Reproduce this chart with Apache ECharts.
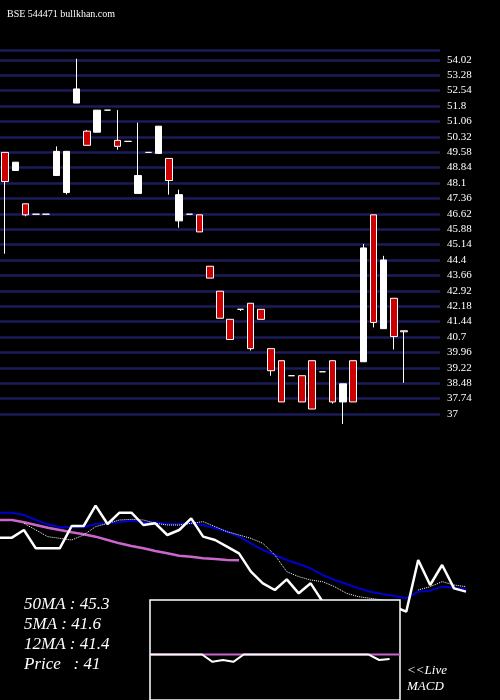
<!DOCTYPE html>
<html><head><meta charset="utf-8">
<script src="https://cdn.jsdelivr.net/npm/echarts@6/dist/echarts.min.js"></script>
<style>html,body{margin:0;padding:0;background:#000}#c{width:500px;height:700px}</style>
</head><body><div id="c"></div>
<script>
// candles: [open, close, low, high]
const candles = [
[49.57,48.17,44.7,49.57],[48.7,49.1,48.7,49.1],[47.1,46.57,46.5,47.1],[46.6,46.6,46.6,46.6],[46.6,46.6,46.6,46.6],
[48.46,49.62,48.46,49.86],[47.64,49.62,47.55,49.62],[51.94,52.62,51.94,54.07],[50.59,49.91,49.91,50.65],[50.54,51.6,50.54,51.6],
[51.6,51.6,51.6,51.6],[50.15,49.86,49.7,51.6],[50.1,50.1,50.1,50.1],[47.6,48.46,47.6,51.0],[49.57,49.57,49.57,49.57],
[49.52,50.83,49.52,50.83],[49.28,48.22,47.54,49.28],[46.28,47.54,45.95,47.78],[46.6,46.6,46.6,46.6],[46.57,45.75,45.75,46.57],
[44.1,43.53,43.53,44.1],[42.9,41.6,41.6,42.9],[41.55,40.58,40.58,41.55],[42.03,42.03,41.95,42.03],[42.32,40.14,40.05,42.32],
[42.03,41.55,41.55,42.03],[40.14,39.08,38.84,40.14],[39.56,37.58,37.58,39.56],[38.84,38.84,38.84,38.84],[38.84,37.58,37.58,38.84],
[39.56,37.24,37.24,39.56],[39.03,39.03,39.03,39.03],[39.56,37.58,37.5,39.56],[37.58,38.45,36.52,38.45],[39.56,37.58,37.58,39.56],
[39.51,44.98,39.51,45.17],[46.57,41.4,41.16,46.57],[41.1,44.4,41.1,44.6],[42.56,40.72,40.1,42.56],[41.0,40.95,38.5,41.0]
];
const categories = candles.map((_, i) => 'D' + (i + 1)).concat(['', '', '']);
const tickLabels = [37,37.74,38.48,39.22,39.96,40.7,41.44,42.18,42.92,43.66,44.4,45.14,45.88,46.62,47.36,48.1,48.84,49.58,50.32,51.06,51.8,52.54,53.28,54.02,54.49];
const priceLine = [143,143,120,175,175,175,108,108,47,102,68,68,105,100,135,120,85,140,150,170,190,245,280,300,268,310,280,335,350,360,362,362,360,350,365,210,285,225,295,305];
const ma12Line = [68,68,75,90,103,112,112,112,102,100,97,92,97,97,102,102,100,105,115,125,140,160,180,195,210,222,235,255,270,282,295,305,312,318,325,305,302,290,293,297];
const ma50Line = [90,90,97,105,113,120,127,133,140,150,160,168,175,183,190,197,200,205,207,210,211,null,null,null,null,null,null,null,null,null,null,null,null,null,null,null,null,null,null,null];
const ma5Line = [null,null,100,120,140,145,150,135,110,100,90,88,90,100,105,105,100,95,110,125,135,145,160,195,245,260,270,275,290,310,320,325,330,335,null,300,290,275,285,290];
const macdLine = [0,0,0,0,0,0,-0.16,-0.12,-0.16,0,0,0,0,0,0,0,0,0,0,0,0,0,-0.12,-0.1,null];
const signalLine = [0,0,0,0,0,0,0,0,0,0,0,0,0,0,0,0,0,0,0,0,0,0,0,0,0];
const legendTexts = ['50MA : 45.3', '5MA : 41.6', '12MA : 41.4', 'Price   : 41'];

const chart = echarts.init(document.getElementById('c'));
const serif = 'Liberation Serif';
const titles = [{text:'BSE 544471 bullkhan.com', left:2, top:4, textStyle:{color:'#fff', fontSize:10, fontWeight:'normal', fontFamily:serif}}];
legendTexts.forEach((t, i) => titles.push({text:t, left:19, top:591 + i*20, textStyle:{color:'#fff', fontSize:17, fontStyle:'italic', fontWeight:'normal', fontFamily:serif}}));
titles.push({text:'<<Live\nMACD', left:402, top:658, textStyle:{color:'#fff', fontSize:13, fontStyle:'italic', fontWeight:'normal', fontFamily:serif, lineHeight:16}});

chart.setOption({
  backgroundColor:'#000',
  animation:false,
  title: titles,
  grid:[
    {left:0, right:60, top:50, height:364},
    {left:0, top:490, width:466, height:210},
    {left:150, top:600, width:250, height:110, show:true, backgroundColor:'#000', borderColor:'#fff', borderWidth:1.5, z:10}
  ],
  xAxis:[
    {type:'category', data:categories, gridIndex:0, boundaryGap:true, show:false},
    {type:'category', data:priceLine.map((_, i) => i), gridIndex:1, boundaryGap:false, show:false},
    {type:'category', data:macdLine.map((_, i) => i), gridIndex:2, boundaryGap:false, show:false}
  ],
  yAxis:[
    {type:'value', gridIndex:0, position:'right', min:37, max:54.49,
     axisLine:{show:false},
     axisTick:{show:false, customValues:tickLabels},
     axisLabel:{color:'#fff', fontSize:11, fontFamily:serif, margin:7, customValues:tickLabels, hideOverlap:false},
     splitLine:{show:true, lineStyle:{color:'#1c1c5a', width:2.5}}},
    {type:'value', gridIndex:1, inverse:true, min:0, max:630, show:false},
    {type:'value', gridIndex:2, min:-1, max:1.2, show:false}
  ],
  series:[
    {type:'candlestick', xAxisIndex:0, yAxisIndex:0, data:candles, barWidth:7,
     itemStyle:{color:'#ffffff', color0:'#cc0000', borderColor:'#ffffff', borderColor0:'#ffffff', borderWidth:1}},
    {type:'line', xAxisIndex:1, yAxisIndex:1, data:ma50Line, showSymbol:false, lineStyle:{color:'#cc66cc', width:2.5}},
    {type:'line', xAxisIndex:1, yAxisIndex:1, data:ma12Line, showSymbol:false, lineStyle:{color:'#0000cc', width:2}},
    {type:'line', xAxisIndex:1, yAxisIndex:1, data:ma5Line, showSymbol:false, lineStyle:{color:'#fff', width:1, type:'dotted'}},
    {type:'line', xAxisIndex:1, yAxisIndex:1, data:priceLine, showSymbol:false, lineStyle:{color:'#fff', width:2.5}},
    {type:'line', xAxisIndex:2, yAxisIndex:2, data:signalLine, showSymbol:false, z:11, lineStyle:{color:'#cc66cc', width:2}},
    {type:'line', xAxisIndex:2, yAxisIndex:2, data:macdLine, showSymbol:false, z:12, lineStyle:{color:'#fff', width:2}}
  ]
});
</script></body></html>
